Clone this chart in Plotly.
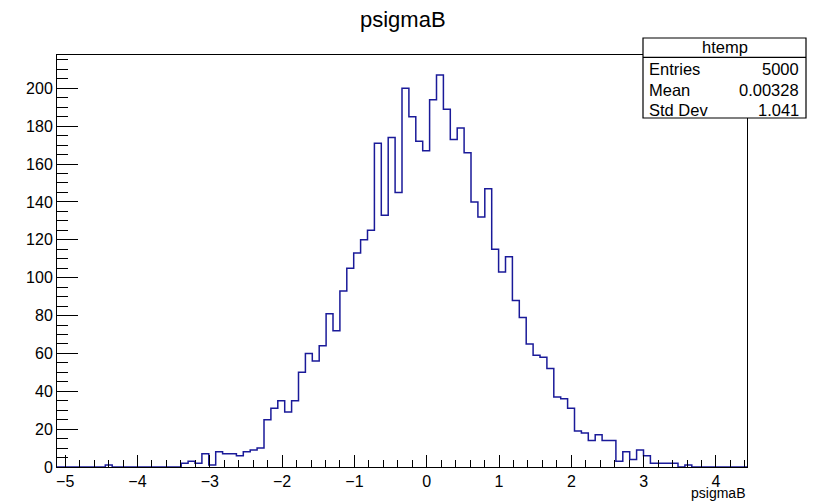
import numpy as np
import plotly.graph_objects as go

# ---- data (histogram of psigmaB, 100 bins) ----
x_min = -5.113
x_max = 4.429
n_bins = 100
counts = [
    0, 0, 0, 0, 0, 0, 0, 1, 0, 0,
    0, 0, 0, 0, 0, 0, 0, 0, 2, 3,
    2, 7, 1, 8, 7, 7, 6, 8, 9, 10,
    25, 31, 35, 29, 35, 50, 60, 56, 64, 81,
    72, 93, 105, 113, 120, 125, 171, 133, 174, 145,
    200, 185, 172, 167, 194, 207, 189, 173, 179, 166,
    140, 132, 147, 115, 103, 111, 88, 79, 65, 59,
    58, 52, 37, 36, 31, 19, 18, 14, 17, 14,
    14, 3, 8, 4, 9, 6, 2, 2, 2, 2,
    0, 1, 0, 0, 0, 0, 0, 0, 0, 0,
]
y_max = 217.6
title_text = "psigmaB"
x_title = "psigmaB"
stats_name = "htemp"
stats_labels = ["Entries", "Mean", "Std Dev"]
stats_values = ["5000", "0.00328", "1.041"]

# ---- figure geometry (pixels) ----
W, H = 818, 502
ML, MR, MT, MB = 57, 71, 55, 35
PW, PH = W - ML - MR, H - MT - MB


def px(xp):
    return (xp - ML) / PW


def py(yp):
    return 1 - (yp - MT) / PH


edges = np.linspace(x_min, x_max, n_bins + 1)
xs = list(edges)
ys = list(counts) + [counts[-1]]

LINE = "#1a1a99"
FONT = "Liberation Sans, Arial, Helvetica, sans-serif"

fig = go.Figure()
fig.add_trace(go.Scatter(
    x=xs, y=ys, mode="lines", line=dict(color=LINE, width=1.5, shape="hv"),
    hoverinfo="skip", showlegend=False,
))

fig.update_layout(
    width=W, height=H,
    margin=dict(l=ML, r=MR, t=MT, b=MB, pad=0, autoexpand=False),
    paper_bgcolor="white", plot_bgcolor="white",
    font=dict(family=FONT, color="black"),
    xaxis=dict(
        range=[x_min, x_max], showgrid=False, zeroline=False,
        showline=True, linecolor="black", linewidth=1, mirror=True,
        layer="above traces",
        ticks="inside", ticklen=12, tickcolor="black", tickwidth=1,
        tick0=0, dtick=1, tickfont=dict(size=16, family=FONT),
        minor=dict(ticks="inside", ticklen=7, dtick=0.2, tick0=0,
                   tickcolor="black", tickwidth=1, showgrid=False),
    ),
    yaxis=dict(
        range=[0, y_max], showgrid=False, zeroline=False,
        showline=True, linecolor="black", linewidth=1, mirror=True,
        layer="above traces",
        ticks="inside", ticklen=21, tickcolor="black", tickwidth=1,
        tick0=0, dtick=20, tickfont=dict(size=16, family=FONT),
        minor=dict(ticks="inside", ticklen=11, dtick=5, tick0=0,
                   tickcolor="black", tickwidth=1, showgrid=False),
    ),
)

# stats box
bx0, bx1, by0, by1, bsep = 643, 806, 38, 118, 57.3
fig.add_shape(type="rect", xref="paper", yref="paper",
              x0=px(bx0), x1=px(bx1), y0=py(by1), y1=py(by0),
              fillcolor="white", line=dict(color="black", width=1.2), layer="above")
fig.add_shape(type="line", xref="paper", yref="paper",
              x0=px(bx0), x1=px(bx1), y0=py(bsep), y1=py(bsep),
              line=dict(color="black", width=1.2), layer="above")

annots = []
annots.append(dict(text=stats_name, x=px((bx0 + bx1) / 2), y=py(47.5),
                   xanchor="center", yanchor="middle"))
rows_y = [69, 90, 110]
for lab, val, yy in zip(stats_labels, stats_values, rows_y):
    annots.append(dict(text=lab, x=px(647), y=py(yy), xanchor="left", yanchor="middle"))
    annots.append(dict(text=val, x=px(801), y=py(yy), xanchor="right", yanchor="middle"))
for a in annots:
    a.update(xref="paper", yref="paper", showarrow=False,
             font=dict(size=16.5, family=FONT, color="black"))
    fig.add_annotation(**a)

# title
fig.add_annotation(text=title_text, xref="paper", yref="paper",
                   x=px(403), y=py(20), xanchor="center", yanchor="middle",
                   showarrow=False, font=dict(size=22, family=FONT, color="black"))
# x-axis title
fig.add_annotation(text=x_title, xref="paper", yref="paper",
                   x=px(747), y=py(493), xanchor="right", yanchor="middle",
                   showarrow=False, font=dict(size=14, family=FONT, color="black"))

fig.write_html("out.html",
               config={"displayModeBar": False},
               post_script="document.body.style.margin='0';document.body.style.overflow='hidden';")
